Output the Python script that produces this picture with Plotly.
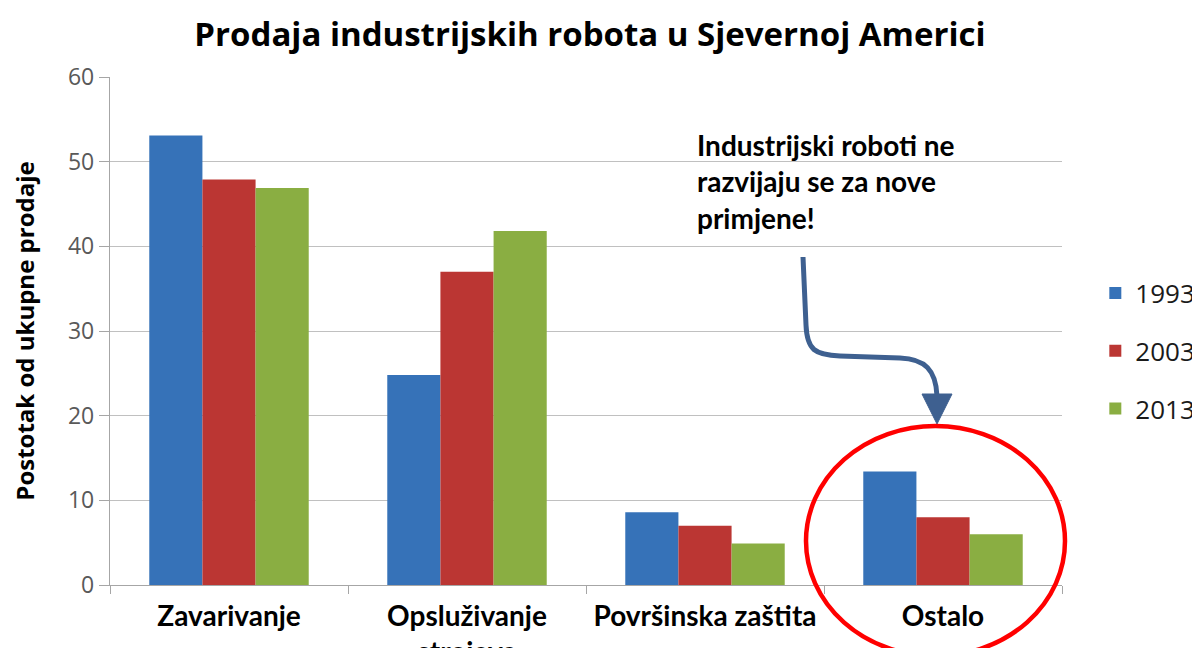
import plotly.graph_objects as go

categories = ["Zavarivanje", "Opsluživanje<br>strojeva", "Površinska zaštita", "Ostalo"]
years = ["1993", "2003", "2013"]
values_1993 = [53.1, 24.8, 8.6, 13.4]
values_2003 = [47.9, 37.0, 7.0, 8.0]
values_2013 = [46.9, 41.8, 4.9, 6.0]
colors = ["#3672b8", "#bb3633", "#8aae42"]
y_ticks = [0, 10, 20, 30, 40, 50, 60]

series = [values_1993, values_2003, values_2013]

OFF = 8  # page body margin
W, H = 1200 - OFF, 648 - OFF
L, T = 110 - OFF, 77 - OFF
R = W - (1062 - OFF)
B = H - (585 - OFF)
PW, PH = W - L - R, H - T - B


def px(x, y):
    """page pixel -> paper coords"""
    fx, fy = x - OFF, y - OFF
    return (fx - L) / PW, (H - B - fy) / PH


fig = go.Figure()
for yr, vals, col in zip(years, series, colors):
    fig.add_trace(go.Bar(name=yr, x=categories, y=vals, marker=dict(color=col, line=dict(width=0)),
                         legendgroup=yr))

pts = [(803, 257), (806, 325), (807, 350), (815, 355), (840, 356), (900, 358), (925, 359), (936, 370), (937, 396)]
p = [px(*q) for q in pts]
path = (f"M {p[0][0]},{p[0][1]} L {p[1][0]},{p[1][1]} C {p[2][0]},{p[2][1]} {p[3][0]},{p[3][1]} {p[4][0]},{p[4][1]} "
        f"L {p[5][0]},{p[5][1]} C {p[6][0]},{p[6][1]} {p[7][0]},{p[7][1]} {p[8][0]},{p[8][1]}")
tri = [px(922, 394), px(952, 394), px(937, 424)]
tri_path = f"M {tri[0][0]},{tri[0][1]} L {tri[1][0]},{tri[1][1]} L {tri[2][0]},{tri[2][1]} Z"

e0 = px(806, 426)
e1 = px(1065, 656)

fig.update_layout(
    width=W, height=H,
    margin=dict(l=L, r=R, t=T, b=B, autoexpand=False),
    paper_bgcolor="white", plot_bgcolor="white",
    title=dict(text="Prodaja industrijskih robota u Sjevernoj Americi", x=(590 - OFF) / W, xanchor="center",
               y=1 - (34 - OFF) / H, yanchor="middle",
               font=dict(family="Open Sans", size=33, color="black", weight="bold")),
    barmode="group", bargap=0.33, bargroupgap=0,
    xaxis=dict(showline=True, linecolor="#a6a6a6", linewidth=1.3, ticks="outside", tickson="boundaries",
               ticklen=8, tickcolor="#a6a6a6", tickwidth=1.3,
               tickfont=dict(family="Lato", size=28, color="black", weight="bold"),
               ticklabelstandoff=6, showgrid=False),
    yaxis=dict(range=[0, 60], tickvals=y_ticks, showline=True, linecolor="#a6a6a6", linewidth=1.3,
               ticks="outside", ticklen=10, tickcolor="#a6a6a6", tickwidth=1.3,
               showgrid=True, gridcolor="#c0c0c0", gridwidth=1.3, zeroline=False,
               tickfont=dict(family="Open Sans", size=23, color="#595959"),
               title=dict(text="Postotak od ukupne prodaje", standoff=29,
                          font=dict(family="Open Sans", size=24, color="black", weight="bold"))),
    legend=dict(x=1.035, y=px(0, 351)[1], xanchor="left", yanchor="middle", tracegroupgap=21,
                font=dict(family="Open Sans", size=26, color="#1a1a1a"), bgcolor="rgba(0,0,0,0)"),
    shapes=[
        dict(type="path", path=path, xref="paper", yref="paper", line=dict(color="#3e6090", width=5)),
        dict(type="path", path=tri_path, xref="paper", yref="paper", fillcolor="#3e6090",
             line=dict(color="#3e6090", width=1)),
        dict(type="circle", xref="paper", yref="paper", x0=e0[0], y0=e0[1], x1=e1[0], y1=e1[1],
             line=dict(color="#ff0000", width=4.5)),
    ],
    annotations=[
        dict(text="Industrijski roboti ne<br>razvijaju se za nove<br>primjene!", xref="paper", yref="paper",
             x=px(695, 0)[0], y=px(0, 126)[1], xanchor="left", yanchor="top", align="left", showarrow=False,
             font=dict(family="Lato", size=28, color="black", weight="bold")),
    ],
)

fig.write_html("out.html")
